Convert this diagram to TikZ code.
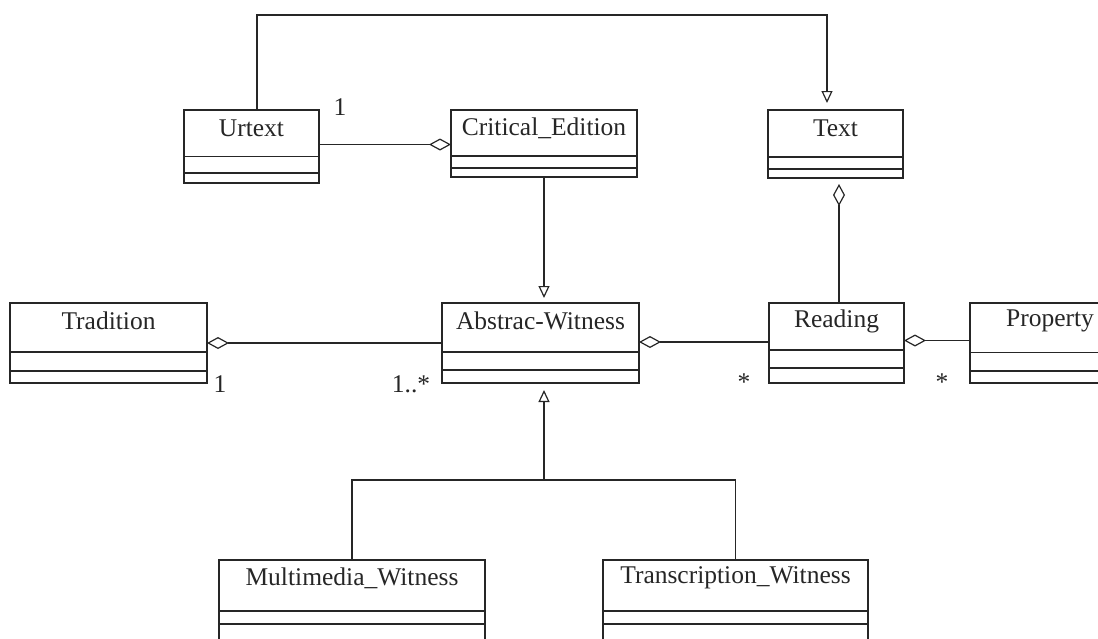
\documentclass[tikz,border=0pt]{standalone}
\usepackage{fontspec}
\setmainfont{Liberation Serif}
\usetikzlibrary{arrows.meta}

\tikzset{
  classbox/.style={draw, inner sep=0pt, outer sep=0pt},
  classname/.style={inner sep=0pt, font=\fontsize{25.5}{28}\selectfont},
  mult/.style={inner sep=0pt, anchor=base, font=\fontsize{25.5}{28}\selectfont},
  gen/.style={-{Triangle[open,length=12pt,width=11pt]}},
  agg/.style={-{Diamond[open,length=22pt,width=12pt]}}
}

% name, left, top, right, bottom, divider 1, divider 2, label
\newcommand{\umlclass}[8]{%
  \node[classbox, minimum width={(#4-#2)*1pt}, minimum height={(#5-#3)*1pt}] (#1) at ({(#2+#4)/2},{(#3+#5)/2}) {};
  \node[classname] (#1-name) at ({(#2+#4)/2},{#3+18}) {#8};
  \draw (#2,#6) -- (#4,#6);
  \draw (#2,#7) -- (#4,#7);
}

\begin{document}
\begin{tikzpicture}[x=1pt,y=-1pt,line width=1.2pt,color={black!85}]
    \clip (0,0) rectangle (1098,638);

    % classes
    \umlclass{urtext}{184}{110}{319}{183}{156.5}{173}{Urtext}
    \umlclass{critical}{451}{110}{637}{177}{156}{168}{Critical\_Edition}
    \umlclass{textcls}{768}{110}{903}{178}{157}{169}{Text}
    \umlclass{tradition}{10}{303}{207}{383}{352}{371}{Tradition}
    \umlclass{abstract}{442}{303}{639}{383}{352}{370}{Abstrac-Witness}
    \umlclass{reading}{769}{303}{904}{383}{350}{368}{Reading}
    \umlclass{property}{970}{303}{1130}{383}{352.5}{371}{Property}
    \umlclass{multimedia}{219}{560}{485}{680}{611}{624}{Multimedia\_Witness}
    \umlclass{transcription}{603}{560}{868}{680}{611}{624}{Transcription\_Witness}

    % multiplicities
    \node[mult] (m-urtext) at (340,115) {1};
    \node[mult] (m-tradition) at (220,392) {1};
    \node[mult] (m-abstract) at (411,392) {1..*};
    \node[mult] (m-reading) at (744,390) {*};
    \node[mult] (m-property) at (942,390) {*};

    % generalisations
    \draw[gen, shorten >=7pt] ([xshift=5.5pt]urtext.north) -- ++(0,-95) -| ([xshift=-8.5pt]textcls.north);
    \draw[gen, shorten >=5pt] (critical.south) -- (critical.south |- abstract.north);
    \coordinate (join) at (544,480);
    \draw (multimedia.north) |- (join) -| (transcription.north);
    \draw[gen, shorten >=7pt] (join) -- (join |- abstract.south);

    % aggregations
    \draw[agg] ([yshift=2pt]urtext.east) -- ([yshift=2pt]urtext.east -| critical.west);
    \draw[agg] (abstract.west) -- (tradition.east);
    \draw[agg] ([yshift=1pt]reading.west) -- ([yshift=1pt]reading.west -| abstract.east);
    \draw[agg] ([yshift=2.5pt]property.west) -- ([yshift=2.5pt]property.west -| reading.east);
    \draw[agg, shorten >=6pt] ([xshift=2.5pt]reading.north) -- ([xshift=2.5pt]reading.north |- textcls.south);
\end{tikzpicture}
\end{document}
